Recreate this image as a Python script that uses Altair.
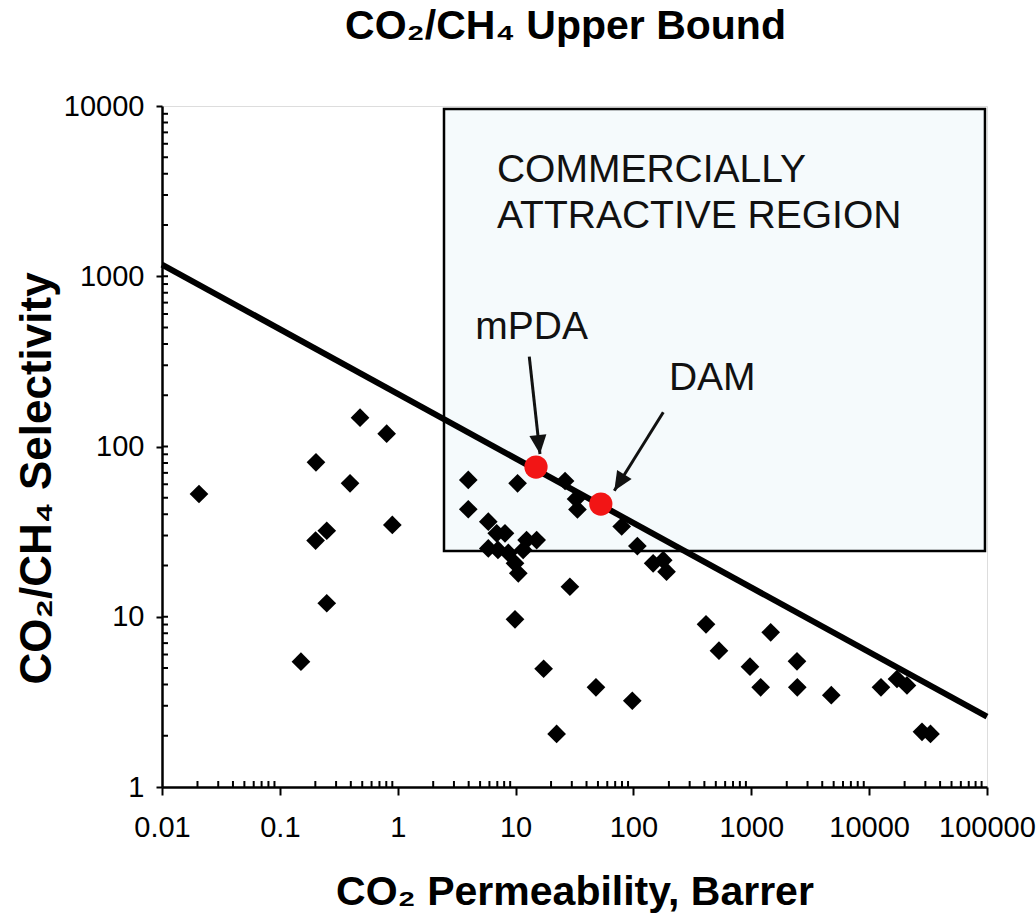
import altair as alt
import pandas as pd

FONT = "Liberation Sans"

# ---------------- data ----------------
# upper-bound line (end points at the axis limits)
bound_perm = [0.01, 100000]
bound_sel = [1170, 2.59]

# literature polymers (black diamonds)
perm = [0.0206, 0.479, 0.806, 0.2025, 0.394, 0.250, 0.201, 0.90, 0.250, 0.151,
        3.97, 10.4, 3.97, 5.87, 6.92, 8.13, 5.87, 7.09, 8.68, 12.4, 15.1, 11.6, 9.89, 10.55, 28.9,
        26.3, 32.6, 33.5, 79.5, 108, 147, 179, 191, 9.89, 17.3, 48.1, 97.8, 22.3,
        413, 532, 1461, 975, 2442, 1201, 2457, 4774, 12603, 17227, 20941, 28076, 33156]
sel = [52.6, 147.6, 118.9, 80.7, 60.8, 32.0, 28.0, 34.6, 12.0, 5.45,
       63.6, 60.8, 42.8, 36.2, 30.9, 30.9, 25.2, 24.7, 23.7, 28.2, 28.2, 24.7, 20.6, 18.0, 15.0,
       62.7, 49.2, 42.7, 33.9, 26.0, 20.6, 21.5, 18.4, 9.66, 4.95, 3.85, 3.21, 2.05,
       9.03, 6.32, 8.10, 5.09, 5.47, 3.85, 3.85, 3.46, 3.85, 4.31, 3.95, 2.11, 2.05]

# highlighted membranes (red circles)
mem_names = ["mPDA", "DAM"]
mem_perm = [14.9, 52.9]
mem_sel = [75.7, 45.9]

# commercially attractive region
region_perm = [2.47, 96100]
region_sel = [24.3, 9600]

# annotation texts
label_text = ["COMMERCIALLY", "ATTRACTIVE REGION", "mPDA", "DAM"]
label_perm = [6.95, 6.95, 4.55, 200]
label_sel = [4210, 2260, 503, 253]

# arrows: start and tip
arrow_id = ["mPDA", "DAM"]
arrow_start_perm = [13.07, 179.2]
arrow_start_sel = [337.0, 158.8]
arrow_tip_perm = [16.11, 68.8]
arrow_tip_sel = [90.35, 55.0]
arrow_angle = [353.7, 32.0]

# axis ticks
x_major = [0.01, 0.1, 1, 10, 100, 1000, 10000, 100000]
y_major = [1, 10, 100, 1000, 10000]
mult = [2, 3, 4, 5, 6, 7, 8, 9]
x_minor = [m * d for d in x_major[:-1] for m in mult]
y_minor = [m * d for d in y_major[:-1] for m in mult] + y_major[1:-1]

# ---------------- tables ----------------
bound_df = pd.DataFrame({"perm": bound_perm, "sel": bound_sel})
pts_df = pd.DataFrame({"perm": perm, "sel": sel})
mem_df = pd.DataFrame({"name": mem_names, "perm": mem_perm, "sel": mem_sel})
region_df = pd.DataFrame({"perm": [region_perm[0]], "perm2": [region_perm[1]],
                          "sel": [region_sel[0]], "sel2": [region_sel[1]]})
label_df = pd.DataFrame({"text": label_text, "perm": label_perm, "sel": label_sel})
shaft_rows = []
for i, a in enumerate(arrow_id):
    shaft_rows.append({"id": a, "o": 0, "perm": arrow_start_perm[i], "sel": arrow_start_sel[i]})
    shaft_rows.append({"id": a, "o": 1, "perm": arrow_tip_perm[i], "sel": arrow_tip_sel[i]})
shaft_df = pd.DataFrame(shaft_rows)
head_df = pd.DataFrame({"id": arrow_id, "perm": arrow_tip_perm, "sel": arrow_tip_sel,
                        "angle": arrow_angle})
xminor_df = pd.DataFrame({"perm": x_minor})
yminor_df = pd.DataFrame({"sel": y_minor})

W, H = 825, 681

xscale = alt.Scale(type="log", domain=[0.01, 100000], nice=False)
yscale = alt.Scale(type="log", domain=[1, 10000], nice=False)

x_axis = alt.Axis(
    values=x_major, format="~g", title="CO\u2082 Permeability, Barrer",
    titleFont=FONT, titleFontSize=41, titleFontWeight="bold", titleColor="black",
    titlePadding=30, labelFont=FONT, labelFontSize=29, labelColor="black",
    labelPadding=18, tickSize=8, tickWidth=2, tickColor="black",
    domainColor="black", domainWidth=2.5, grid=False, labelFlush=False,
)
y_axis = alt.Axis(
    values=y_major, format="~g", title="CO\u2082/CH\u2084 Selectivity",
    titleFont=FONT, titleFontSize=44, titleFontWeight="bold", titleColor="black",
    titleX=-125, titleY=372, titleAngle=270, titleAlign="center", titleBaseline="middle",
    labelFont=FONT, labelFontSize=29, labelColor="black",
    labelPadding=12, tickSize=6, tickWidth=2, tickColor="black",
    domainColor="black", domainWidth=2.5, grid=False, labelFlush=False,
)


def X(f):
    return alt.X(f, type="quantitative", scale=xscale, axis=x_axis)


def Y(f):
    return alt.Y(f, type="quantitative", scale=yscale, axis=y_axis)


region = alt.Chart(region_df).mark_rect(
    fill="#f5fafc", stroke="black", strokeWidth=2.5
).encode(x=X("perm"), x2="perm2", y=Y("sel"), y2="sel2")

xminor = alt.Chart(xminor_df).mark_rule(color="black", strokeWidth=2).encode(
    x=X("perm"), y=alt.value(H), y2=alt.value(H - 6)
)
yminor = alt.Chart(yminor_df).mark_rule(color="black", strokeWidth=2).encode(
    y=Y("sel"), x=alt.value(0), x2=alt.value(6)
)

bound = alt.Chart(bound_df).mark_line(color="black", strokeWidth=6).encode(
    x=X("perm"), y=Y("sel")
)

pts = alt.Chart(pts_df).mark_point(
    shape="diamond", filled=True, color="black", size=350, opacity=1
).encode(x=X("perm"), y=Y("sel"))

mem = alt.Chart(mem_df).mark_circle(color="#f21515", size=540, opacity=1).encode(
    x=X("perm"), y=Y("sel")
)

shafts = alt.Chart(shaft_df).mark_line(color="#111111", strokeWidth=3).encode(
    x=X("perm"), y=Y("sel"), detail="id:N", order="o:Q"
)
heads = alt.Chart(head_df).mark_point(
    shape="M0,0L-0.45,-1L0.45,-1Z", filled=True, color="#111111", size=1444, opacity=1
).encode(x=X("perm"), y=Y("sel"), angle=alt.Angle("angle:Q", scale=None))

labels = alt.Chart(label_df).mark_text(
    align="left", baseline="middle", font=FONT, fontSize=39, color="#111111"
).encode(x=X("perm"), y=Y("sel"), text="text:N")

chart = alt.layer(
    region, xminor, yminor, bound, pts, mem, shafts, heads, labels
).properties(
    width=W, height=H,
    title=alt.TitleParams(
        text="CO\u2082/CH\u2084 Upper Bound", font=FONT, fontSize=41, fontWeight="bold",
        color="black", anchor="middle", frame="group", offset=44, dx=-9,
    ),
    padding={"left": 162, "top": 106, "right": 49, "bottom": 137},
    autosize=alt.AutoSizeParams(type="none"),
).configure_view(stroke="#8c8c8c", strokeWidth=3).configure(background="white")

chart.save("out.html", embed_options={"renderer": "svg", "actions": False})
